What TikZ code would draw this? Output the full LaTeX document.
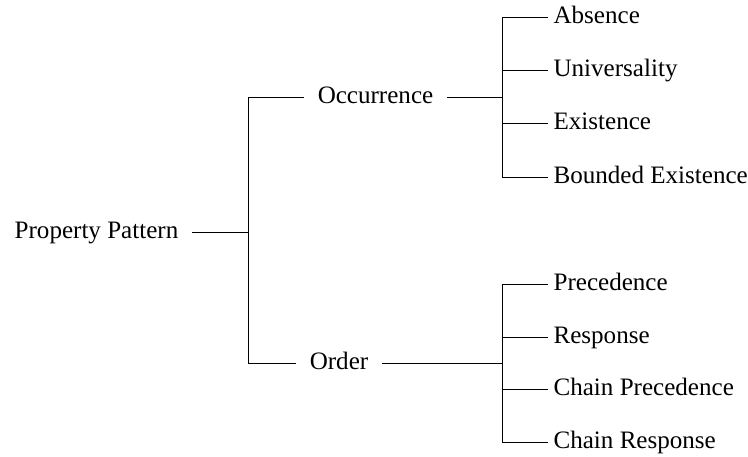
\documentclass[tikz,border=0pt]{standalone}
\usepackage{fontspec}
\setmainfont{Liberation Serif}
\begin{document}
\begin{tikzpicture}[x=0.75pt,y=-0.75pt,
  every node/.style={font=\fontsize{18.8}{22}\selectfont, text height=1.15em, text depth=0.25em, inner ysep=0pt},
  inner/.style={inner xsep=10pt},
  leaf/.style={anchor=west, inner xsep=4pt},
  link/.style={draw=black, line width=0.75pt}]
\useasboundingbox (0,0) rectangle (748,456);

% root and second level
\node[inner] (root) at (96.5,232) {Property Pattern};
\node[inner] (occ) at (375.5,98) {Occurrence};
\node[inner] (ord) at (339,363) {Order};

% junctions of the branch lines
\coordinate (ja) at (248,232);
\coordinate (jb) at (502,98);
\coordinate (jc) at (502,363);

% leaves under Occurrence
\node[leaf] (abs) at (548,18) {Absence};
\node[leaf] (uni) at (548,71) {Universality};
\node[leaf] (exi) at (548,124) {Existence};
\node[leaf] (bex) at (548,177) {Bounded Existence};

% leaves under Order
\node[leaf] (pre) at (548,284) {Precedence};
\node[leaf] (res) at (548,337) {Response};
\node[leaf] (cpr) at (548,389) {Chain Precedence};
\node[leaf] (cre) at (548,442) {Chain Response};

% connectors
\draw[link] (root.east) -- (root.east -| ja);
\draw[link] (occ.west) -| (ja);
\draw[link] (ord.west) -| (ja);

\draw[link] (occ.east) -- (jb);
\draw[link] (abs.west) -| (jb);
\draw[link] (bex.west) -| (jb);
\draw[link] (uni.west) -- (uni.west -| jb);
\draw[link] (exi.west) -- (exi.west -| jb);

\draw[link] (ord.east) -- (jc);
\draw[link] (pre.west) -| (jc);
\draw[link] (cre.west) -| (jc);
\draw[link] (res.west) -- (res.west -| jc);
\draw[link] (cpr.west) -- (cpr.west -| jc);
\end{tikzpicture}
\end{document}
